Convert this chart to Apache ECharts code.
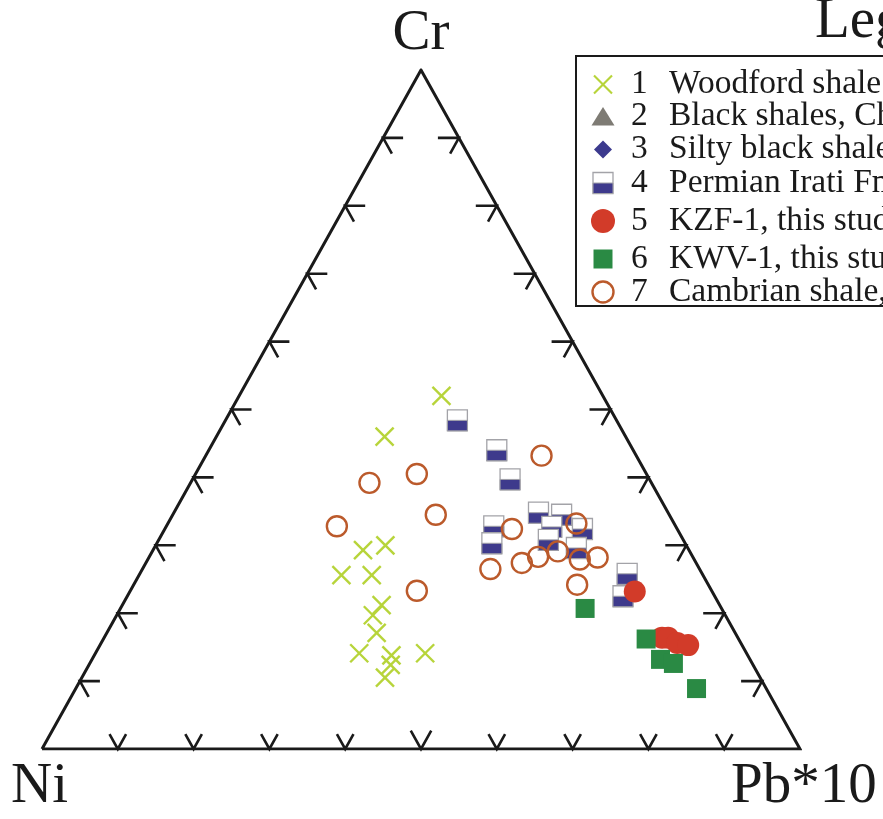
<!DOCTYPE html>
<html>
<head>
<meta charset="utf-8">
<script src="https://cdn.jsdelivr.net/npm/echarts@6/dist/echarts.min.js"></script>
<style>
  html, body { margin: 0; padding: 0; background: #ffffff; }
  #chart { width: 883px; height: 819px; }
</style>
</head>
<body>
<div id="chart"></div>
<script>
// Compositions as [Cr, Ni, Pb*10] in percent
const woodford = [
  [52.0, 21.3, 26.7], [46.0, 31.8, 22.2], [29.3, 43.0, 27.7], [30.0, 39.7, 30.3],
  [25.6, 47.7, 26.7], [25.6, 43.7, 30.7], [21.2, 44.6, 34.2], [19.7, 46.5, 33.8],
  [17.1, 47.3, 35.6], [14.1, 51.1, 34.8], [13.8, 47.0, 39.2], [12.4, 47.8, 39.8],
  [10.5, 49.5, 40.0], [14.1, 42.4, 43.5]
];
const blackShales = [];
const siltyShales = [];
const irati = [
  [48.4, 21.0, 30.6], [44.0, 18.0, 38.0], [39.7, 18.4, 41.9], [32.8, 24.0, 43.2],
  [30.3, 25.5, 44.2], [34.8, 17.1, 48.1], [34.5, 14.2, 51.3], [32.7, 16.4, 50.9],
  [30.8, 17.8, 51.4], [32.4, 12.5, 55.1], [29.6, 14.7, 55.7], [25.8, 9.9, 64.3],
  [22.5, 12.1, 65.4]
];
const kzf1 = [
  [23.2, 10.2, 66.6], [16.4, 10.0, 73.6], [16.4, 9.2, 74.4], [15.6, 8.4, 76.0],
  [15.3, 7.1, 77.6]
];
const kwv1 = [
  [20.7, 18.0, 61.3], [16.2, 12.2, 71.6], [13.2, 11.8, 75.0], [12.6, 10.4, 77.0],
  [8.9, 9.2, 81.9]
];
const cambrian = [
  [43.2, 12.5, 44.3], [40.5, 30.3, 29.2], [39.2, 37.2, 23.6], [34.5, 30.8, 34.7],
  [32.8, 44.7, 22.5], [32.4, 21.8, 45.8], [33.2, 12.9, 53.9], [26.5, 27.6, 45.9],
  [27.4, 23.0, 49.6], [28.3, 20.4, 51.3], [29.1, 17.4, 53.5], [27.9, 15.1, 57.0],
  [28.2, 12.6, 59.2], [24.2, 17.3, 58.5], [23.3, 38.9, 37.8]
];

const apexLabels = ['Cr', 'Ni', 'Pb*10'];
const legendTitle = 'Legend';
const legendNumbers = ['1', '2', '3', '4', '5', '6', '7'];
const legendNames = [
  'Woodford shale',
  'Black shales, China',
  'Silty black shales',
  'Permian Irati Fm.',
  'KZF-1, this study',
  'KWV-1, this study',
  'Cambrian shale, China'
];
const tickFractions = [10, 20, 30, 40, 50, 60, 70, 80, 90];

const COLORS = {
  cross: '#b7d43a', tri: '#7e7b74', diamond: '#3c3a8e', half: '#3e3a8c',
  halfEdge: '#a3a3a8', red: '#d23b29', green: '#2a8a44', brown: '#bb5a2b', ink: '#1a1a1a'
};
const SERIF = '"Liberation Serif", "Times New Roman", serif';

// Cr at the top, Ni bottom-left, Pb*10 bottom-right
function toXY(c) {
  const s = c[0] + c[1] + c[2];
  const a = c[0] / s, p = c[2] / s;
  return [p + a / 2, a];
}

const triangle = [[0, 100, 0], [0, 0, 100], [100, 0, 0], [0, 100, 0]].map(toXY);

// Ticks: edge 0 = base (Ni–Pb), 1 = left (Ni–Cr), 2 = right (Pb–Cr)
const ticks = [];
tickFractions.forEach(function (f) {
  ticks.push(toXY([0, 100 - f, f]).concat([0, f === 50 ? 21 : 17]));
  ticks.push(toXY([f, 100 - f, 0]).concat([1, 18]));
  ticks.push(toXY([f, 0, 100 - f]).concat([2, 18]));
});

function unit(a, b) {
  const dx = b[0] - a[0], dy = b[1] - a[1];
  const l = Math.sqrt(dx * dx + dy * dy);
  return [dx / l, dy / l];
}

function renderTick(params, api) {
  const p = api.coord([api.value(0), api.value(1)]);
  const edge = api.value(2), L = api.value(3);
  const ni = api.coord([0, 0]), pb = api.coord([1, 0]), cr = api.coord([0.5, 1]);
  let pts;
  if (edge === 0) {
    const u1 = unit(pb, cr), u2 = unit(ni, cr);
    pts = [[p[0] + u1[0] * L, p[1] + u1[1] * L], p, [p[0] + u2[0] * L, p[1] + u2[1] * L]];
  } else if (edge === 1) {
    const d = unit(cr, pb);
    pts = [[p[0] + 20, p[1]], p, [p[0] + d[0] * L, p[1] + d[1] * L]];
  } else {
    const d = unit(cr, ni);
    pts = [[p[0] - 21, p[1]], p, [p[0] + d[0] * L, p[1] + d[1] * L]];
  }
  return { type: 'polyline', shape: { points: pts }, style: { stroke: COLORS.ink, lineWidth: 2.6, fill: null } };
}

function renderCross(params, api) {
  const p = api.coord([api.value(0), api.value(1)]);
  const h = 9;
  return {
    type: 'group',
    children: [
      { type: 'line', shape: { x1: p[0] - h, y1: p[1] - h, x2: p[0] + h, y2: p[1] + h }, style: { stroke: COLORS.cross, lineWidth: 2.4 } },
      { type: 'line', shape: { x1: p[0] - h, y1: p[1] + h, x2: p[0] + h, y2: p[1] - h }, style: { stroke: COLORS.cross, lineWidth: 2.4 } }
    ]
  };
}

function halfSquare(cx, cy, w, h) {
  return [
    { type: 'rect', shape: { x: cx - w / 2, y: cy - h / 2, width: w, height: h }, style: { fill: '#ffffff', stroke: COLORS.halfEdge, lineWidth: 1.3 } },
    { type: 'rect', shape: { x: cx - w / 2, y: cy, width: w, height: h / 2 }, style: { fill: COLORS.half, stroke: COLORS.halfEdge, lineWidth: 1 } }
  ];
}

function renderHalf(params, api) {
  const p = api.coord([api.value(0), api.value(1)]);
  return { type: 'group', children: halfSquare(p[0], p[1], 20, 21) };
}

// Legend block
const rowCenters = [84.5, 116.5, 149.5, 183, 221, 259, 292];
const symX = 603;
function legendSymbol(i, cy) {
  switch (i) {
    case 0:
      return [
        { type: 'line', shape: { x1: symX - 9, y1: cy - 9, x2: symX + 9, y2: cy + 9 }, style: { stroke: COLORS.cross, lineWidth: 2.2 } },
        { type: 'line', shape: { x1: symX - 9, y1: cy + 9, x2: symX + 9, y2: cy - 9 }, style: { stroke: COLORS.cross, lineWidth: 2.2 } }
      ];
    case 1:
      return [{ type: 'polygon', shape: { points: [[symX, cy - 9.5], [symX + 11.5, cy + 9], [symX - 11.5, cy + 9]] }, style: { fill: COLORS.tri } }];
    case 2:
      return [{ type: 'polygon', shape: { points: [[symX, cy - 9], [symX + 9, cy], [symX, cy + 9], [symX - 9, cy]] }, style: { fill: COLORS.diamond } }];
    case 3:
      return halfSquare(symX, cy, 20, 21);
    case 4:
      return [{ type: 'circle', shape: { cx: symX, cy: cy, r: 12 }, style: { fill: COLORS.red } }];
    case 5:
      return [{ type: 'rect', shape: { x: symX - 9.5, y: cy - 9.5, width: 19, height: 19 }, style: { fill: COLORS.green } }];
    default:
      return [{ type: 'circle', shape: { cx: symX, cy: cy, r: 10.5 }, style: { fill: 'rgba(0,0,0,0)', stroke: COLORS.brown, lineWidth: 2.4 } }];
  }
}

const graphics = [
  { type: 'text', style: { text: apexLabels[0], x: 421, y: 34, align: 'center', verticalAlign: 'middle', font: '57px ' + SERIF, fill: COLORS.ink } },
  { type: 'text', style: { text: apexLabels[1], x: 11, y: 787, align: 'left', verticalAlign: 'middle', font: '57px ' + SERIF, fill: COLORS.ink } },
  { type: 'text', style: { text: apexLabels[2], x: 731, y: 787, align: 'left', verticalAlign: 'middle', font: '57px ' + SERIF, fill: COLORS.ink } },
  { type: 'text', style: { text: legendTitle, x: 815, y: 22, align: 'left', verticalAlign: 'middle', font: '57px ' + SERIF, fill: COLORS.ink } },
  { type: 'rect', shape: { x: 576, y: 56, width: 400, height: 250 }, style: { fill: '#ffffff', stroke: COLORS.ink, lineWidth: 2 } }
];
legendNames.forEach(function (name, i) {
  const cy = rowCenters[i];
  legendSymbol(i, cy).forEach(function (g) { graphics.push(g); });
  graphics.push({ type: 'text', style: { text: legendNumbers[i], x: 631, y: cy, align: 'left', verticalAlign: 'middle', font: '33.5px ' + SERIF, fill: COLORS.ink } });
  graphics.push({ type: 'text', style: { text: name, x: 669, y: cy, align: 'left', verticalAlign: 'middle', font: '33.5px ' + SERIF, fill: COLORS.ink } });
});

const chart = echarts.init(document.getElementById('chart'), null, { renderer: 'canvas' });
chart.setOption({
  animation: false,
  backgroundColor: '#ffffff',
  grid: { left: 42, right: 83, top: 70, bottom: 70 },
  xAxis: { type: 'value', min: 0, max: 1, show: false },
  yAxis: { type: 'value', min: 0, max: 1, show: false },
  series: [
    {
      name: 'frame', type: 'line', data: triangle, symbol: 'none', silent: true,
      lineStyle: { color: COLORS.ink, width: 3, join: 'miter' }, z: 1
    },
    {
      name: 'ticks', type: 'custom', data: ticks, renderItem: renderTick, silent: true, z: 1
    },
    { name: legendNames[0], type: 'custom', data: woodford.map(toXY), renderItem: renderCross, z: 2 },
    { name: legendNames[1], type: 'scatter', data: blackShales.map(toXY), symbol: 'triangle', symbolSize: 20, itemStyle: { color: COLORS.tri }, z: 2 },
    { name: legendNames[2], type: 'scatter', data: siltyShales.map(toXY), symbol: 'diamond', symbolSize: 16, itemStyle: { color: COLORS.diamond }, z: 2 },
    { name: legendNames[4], type: 'scatter', data: kzf1.map(toXY), symbol: 'circle', symbolSize: 22, itemStyle: { color: COLORS.red, opacity: 1 }, z: 2 },
    { name: legendNames[5], type: 'scatter', data: kwv1.map(toXY), symbol: 'rect', symbolSize: 19, itemStyle: { color: COLORS.green, opacity: 1 }, z: 2 },
    { name: legendNames[3], type: 'custom', data: irati.map(toXY), renderItem: renderHalf, z: 2 },
    {
      name: legendNames[6], type: 'scatter', data: cambrian.map(toXY), symbol: 'circle', symbolSize: 20,
      itemStyle: { color: 'rgba(255,255,255,0)', borderColor: COLORS.brown, borderWidth: 2.4, opacity: 1 }, z: 2
    }
  ],
  graphic: graphics
});
</script>
</body>
</html>
